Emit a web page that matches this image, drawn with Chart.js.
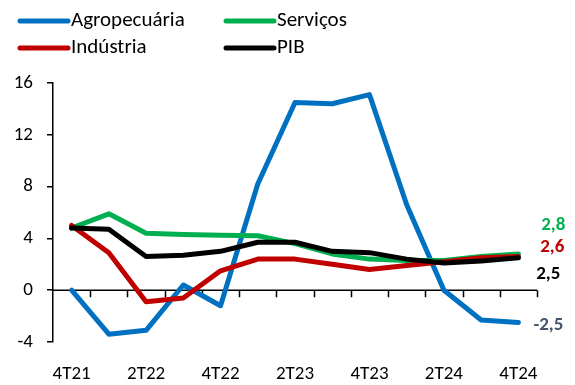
<!DOCTYPE html>
<html>
<head>
<meta charset="utf-8">
<script src="https://cdn.jsdelivr.net/npm/chart.js@4/dist/chart.umd.min.js"></script>
<style>
  html, body { margin: 0; padding: 0; background: #fff; }
  #wrap { width: 575px; height: 385px; }
</style>
</head>
<body>
<div id="wrap"><canvas id="c" width="575" height="385"></canvas></div>
<script>
// Quarterly growth (%, year over year)
const categories = ['4T21','1T22','2T22','3T22','4T22','1T23','2T23','3T23','4T23','1T24','2T24','3T24','4T24'];
const agropecuaria = [0, -3.4, -3.1, 0.4, -1.2, 8.2, 14.5, 14.4, 15.1, 6.6, 0.0, -2.3, -2.5];
const industria    = [5.0, 2.9, -0.9, -0.6, 1.5, 2.4, 2.4, 2.0, 1.6, 1.9, 2.2, 2.5, 2.6];
const servicos     = [4.8, 5.9, 4.4, 4.3, 4.25, 4.2, 3.6, 2.8, 2.4, 2.3, 2.3, 2.6, 2.8];
const pib          = [4.8, 4.7, 2.6, 2.7, 3.0, 3.7, 3.7, 3.0, 2.9, 2.4, 2.1, 2.25, 2.5];
const yTicks = [-4, 0, 4, 8, 12, 16];

const FONT = 'Carlito, Lato, "Open Sans", sans-serif';

const series = [
  { label: 'Agropecuária', data: agropecuaria, color: '#0070C0', tagColor: '#44546A', tagDx: -1, tagDy: 3,   order: 3 },
  { label: 'Serviços',     data: servicos,     color: '#00B050', tagColor: '#00B050', tagDx: 1,  tagDy: -29, order: 2 },
  { label: 'Indústria',    data: industria,    color: '#C00000', tagColor: '#C00000', tagDx: 0,  tagDy: -9,  order: 1 },
  { label: 'PIB',          data: pib,          color: '#000000', tagColor: '#000000', tagDx: -4, tagDy: 16,  order: 0 }
];

// Zero line with category tick marks, drawn beneath the series
const zeroAxis = {
  id: 'zeroAxis',
  beforeDatasetsDraw(chart) {
    const { ctx, chartArea, scales: { x, y } } = chart;
    const y0 = y.getPixelForValue(0);
    ctx.save();
    ctx.strokeStyle = '#000';
    ctx.lineWidth = 1.5;
    ctx.beginPath();
    ctx.moveTo(chartArea.left, y0);
    ctx.lineTo(chartArea.right, y0);
    for (let i = 0; i < categories.length; i++) {
      const px = Math.round(x.getPixelForValue(i + 0.5)) + 0.5;
      ctx.moveTo(px, y0);
      ctx.lineTo(px, y0 + 7);
    }
    ctx.stroke();
    ctx.restore();
  }
};

// 2x2 legend and the last-value tags
const extras = {
  id: 'extras',
  afterDraw(chart) {
    const { ctx, scales: { x, y } } = chart;
    ctx.save();
    const cols = [18, 224];
    const rows = [21, 48];
    series.forEach((s, i) => {
      const lx = cols[i % 2], ly = rows[Math.floor(i / 2)];
      ctx.strokeStyle = s.color;
      ctx.lineWidth = 5;
      ctx.lineCap = 'round';
      ctx.beginPath();
      ctx.moveTo(lx + 2, ly);
      ctx.lineTo(lx + 50, ly);
      ctx.stroke();
      ctx.fillStyle = '#000';
      ctx.font = '21px ' + FONT;
      ctx.textAlign = 'left';
      ctx.textBaseline = 'middle';
      ctx.fillText(s.label, lx + 53, ly);
    });
    const last = categories.length - 1;
    series.forEach(s => {
      const v = s.data[last];
      const px = x.getPixelForValue(last);
      const py = y.getPixelForValue(v) + s.tagDy;
      ctx.fillStyle = s.tagColor;
      ctx.font = 'bold 19px ' + FONT;
      ctx.textAlign = 'right';
      ctx.textBaseline = 'middle';
      ctx.fillText(v.toFixed(1).replace('.', ','), px + 46 + s.tagDx, py);
    });
    ctx.restore();
  }
};

new Chart(document.getElementById('c'), {
  type: 'line',
  data: {
    labels: categories,
    datasets: series.map(s => ({
      label: s.label,
      data: s.data,
      borderColor: s.color,
      backgroundColor: s.color,
      borderWidth: 5,
      borderJoinStyle: 'round',
      borderCapStyle: 'round',
      pointRadius: 0,
      tension: 0,
      order: s.order
    }))
  },
  options: {
    responsive: false,
    animation: false,
    devicePixelRatio: 1,
    layout: { padding: { left: 0, right: 38, top: 83, bottom: 0 } },
    plugins: { legend: { display: false }, tooltip: { enabled: false } },
    scales: {
      x: {
        offset: true,
        border: { display: false },
        grid: { display: false, offset: true },
        ticks: {
          autoSkip: false,
          maxRotation: 0,
          padding: 13,
          color: '#000',
          font: { family: FONT, size: 19 },
          callback: (val, idx) => (idx % 2 === 0 ? categories[idx] : '')
        },
        afterFit: s => { s.height = 43; }
      },
      y: {
        min: -4,
        max: 16,
        border: { display: true, color: '#000', width: 1.5 },
        grid: { display: true, drawOnChartArea: false, drawTicks: true, tickLength: 6, color: '#000', lineWidth: 1.5 },
        afterBuildTicks: s => { s.ticks = yTicks.map(v => ({ value: v })); },
        ticks: {
          padding: 14,
          color: '#000',
          font: { family: FONT, size: 19 }
        },
        afterFit: s => { s.width = 53; }
      }
    }
  },
  plugins: [zeroAxis, extras]
});
</script>
</body>
</html>
